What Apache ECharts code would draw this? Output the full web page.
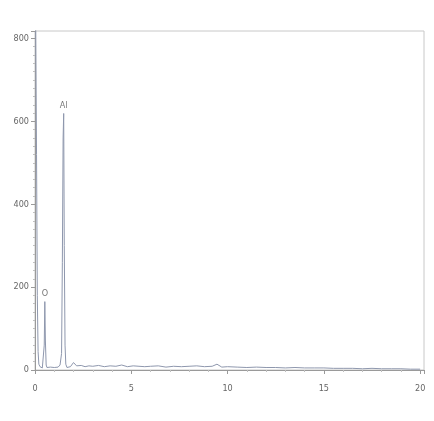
<!DOCTYPE html>
<html><head><meta charset="utf-8">
<script src="https://cdn.jsdelivr.net/npm/echarts@6/dist/echarts.min.js"></script>
<style>html,body{margin:0;padding:0;background:#fff}#c{width:434px;height:421px}</style>
</head><body><div id="c"></div>
<script>
// Spectrum: energy (keV) and counts
const energy = [0.00,0.04,0.08,0.12,0.16,0.20,0.26,0.32,0.38,0.44,0.48,0.51,0.54,0.58,0.62,0.70,0.80,0.90,1.00,1.10,1.20,1.30,1.38,1.42,1.46,1.49,1.52,1.56,1.60,1.66,1.74,1.84,1.94,2.00,2.08,2.16,2.26,2.40,2.60,2.80,3.00,3.30,3.60,3.90,4.20,4.50,4.80,5.10,5.40,5.70,6.00,6.40,6.80,7.20,7.60,8.00,8.40,8.80,9.20,9.45,9.70,10.0,10.5,11.0,11.5,12.0,12.5,13.0,13.5,14.0,14.5,15.0,15.5,16.0,16.5,17.0,17.5,18.0,18.5,19.0,19.5,20.0];
const counts = [950,820,520,180,45,14,8,6,5,9,60,165,70,12,6,5,7,4,6,5,7,12,40,260,560,619,300,60,14,6,4,8,12,18,14,10,9,11,8,10,9,11,8,10,9,12,8,10,9,8,9,10,7,9,8,9,10,8,9,14,7,8,7,6,7,6,6,5,6,5,5,5,4,4,4,3,4,3,3,3,2,2];
// Peak labels
const peakNames = ["O","Al"];
const peakEnergy = [0.51,1.49];
const peakCounts = [165,619];
// Axis ticks
const xTicks = [0,5,10,15,20];
const yTicks = [0,200,400,600,800];

const chart = echarts.init(document.getElementById('c'));
const font = "'DejaVu Sans Condensed','Liberation Sans Narrow',sans-serif";
chart.setOption({
  animation:false,
  backgroundColor:'#fff',
  grid:{left:35,right:10,top:31,bottom:51,show:true,borderColor:'#c8c8c8',borderWidth:1},
  xAxis:{type:'value',min:xTicks[0],max:20.2,interval:5,
    axisLine:{onZero:false,lineStyle:{color:'#9a9a9a',width:1}},
    axisTick:{show:true,length:4,lineStyle:{color:'#9a9a9a'}},
    minorTick:{show:true,splitNumber:5,length:2,lineStyle:{color:'#c0c0c0'}},
    splitLine:{show:false},
    axisLabel:{color:'#666',fontSize:9,fontFamily:font,margin:14,showMaxLabel:true,
      formatter:v=>xTicks.includes(v)?String(v):''}},
  yAxis:{type:'value',min:yTicks[0],max:818,interval:200,
    axisLine:{show:true,lineStyle:{color:'#9a9a9a',width:1}},
    axisTick:{show:true,length:4,lineStyle:{color:'#9a9a9a'}},
    minorTick:{show:true,splitNumber:10,length:2,lineStyle:{color:'#c0c0c0'}},
    splitLine:{show:false},
    axisLabel:{color:'#666',fontSize:9,fontFamily:font,margin:6,showMaxLabel:false,
      formatter:v=>yTicks.includes(v)?String(v):''}},
  series:[
    {type:'line',data:energy.map((e,i)=>[e,counts[i]]),symbol:'none',clip:true,
     lineStyle:{color:'#8e97ad',width:1},z:2},
    {type:'scatter',data:peakEnergy.map((e,i)=>[e,peakCounts[i],peakNames[i]]),
     symbolSize:0,silent:true,
     label:{show:true,position:'top',distance:3,color:'#555',fontSize:9,fontFamily:font,
       formatter:p=>p.data[2]}}
  ]
});
</script></body></html>
